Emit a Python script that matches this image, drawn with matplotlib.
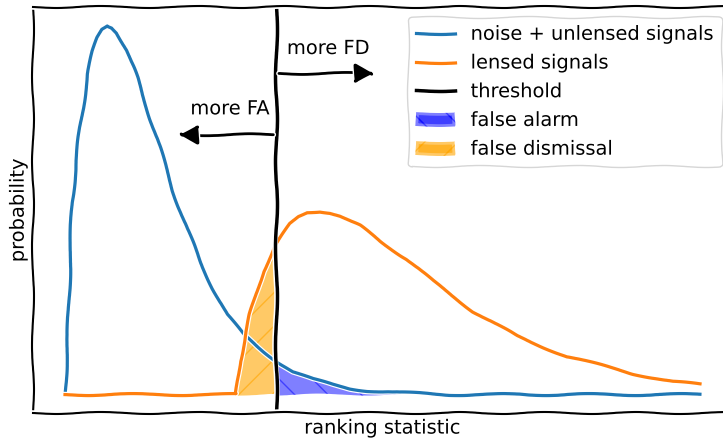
import numpy as np
import matplotlib
matplotlib.use("Agg")
from matplotlib import pyplot as plt

# noise + unlensed signals
noise_x = [0.0, 0.09, 0.22, 0.47, 0.72, 0.88, 1.01, 1.15, 1.32, 1.48, 1.64, 1.95, 2.27, 2.58,
           2.99, 3.40, 3.84, 4.25, 4.66, 5.10, 5.61, 6.14, 6.65, 7.18, 7.81, 8.44, 8.98,
           9.51, 10.55, 12.1, 14.0, 16.0, 18.0, 20.0]
noise_y = [0.0, 0.163, 0.52, 0.723, 0.87, 0.93, 0.967, 0.99, 1.0, 0.995, 0.981, 0.932, 0.859,
           0.777, 0.668, 0.552, 0.451, 0.361, 0.288, 0.217, 0.163, 0.125, 0.092, 0.062, 0.041,
           0.027, 0.016, 0.011, 0.005, 0.0, 0.0, 0.0, 0.0, 0.0]

# lensed signals
lensed_x = [0.0, 2.0, 4.0, 5.39, 5.51, 5.83, 6.24, 6.65, 7.09, 7.35, 7.62, 8.03, 8.35, 8.66,
            9.29, 10.02, 10.77, 11.59, 12.85, 14.24, 15.81, 17.89, 19.15, 20.0]
lensed_y = [0.0, 0.0, 0.0, 0.0, 0.09, 0.217, 0.334, 0.405, 0.462, 0.482, 0.494, 0.497, 0.493,
            0.484, 0.457, 0.410, 0.367, 0.307, 0.226, 0.158, 0.103, 0.057, 0.035, 0.027]

threshold = 6.65

plt.xkcd()
plt.rcParams['font.family'] = ['DejaVu Sans']

fig = plt.figure(figsize=(7.23, 4.38), dpi=100)
ax = fig.add_axes([0.046, 0.057, 0.966, 0.927])

noise_x = np.array(noise_x)
noise_y = np.array(noise_y)
lensed_x = np.array(lensed_x)
lensed_y = np.array(lensed_y)

ax.plot(noise_x, noise_y, color='C0', lw=2.3, label='noise + unlensed signals')
ax.plot(lensed_x, lensed_y, color='C1', lw=2.3, label='lensed signals')
ax.axvline(threshold, color='black', lw=2.5, label='threshold')

fa = noise_x >= threshold
ax.fill_between(noise_x[fa], noise_y[fa], color='blue', alpha=0.5, hatch='\\',
                lw=0, label='false alarm')
fd = lensed_x <= threshold
ax.fill_between(lensed_x[fd], lensed_y[fd], color='orange', alpha=0.6, hatch='/',
                lw=0, label='false dismissal')

ax.annotate('', xy=(9.86, 0.87), xytext=(threshold, 0.87),
            arrowprops=dict(arrowstyle='-|>', color='black', lw=2, mutation_scale=30))
ax.annotate('', xy=(3.46, 0.704), xytext=(threshold, 0.704),
            arrowprops=dict(arrowstyle='-|>', color='black', lw=2, mutation_scale=30))
ax.text(6.99, 0.9375, 'more FD', ha='left', va='center')
ax.text(6.46, 0.774, 'more FA', ha='right', va='center')

ax.set_xlim(-1, 21)
ax.set_ylim(-0.05, 1.05)
ax.set_xticks([])
ax.set_yticks([])
ax.set_xlabel('ranking statistic')
ax.set_ylabel('probability')

ax.legend(loc='upper right', bbox_to_anchor=(722 / 723, 1 - 17 / 438),
          bbox_transform=fig.transFigure, borderaxespad=0)

fig.savefig('out.png', dpi=100)
